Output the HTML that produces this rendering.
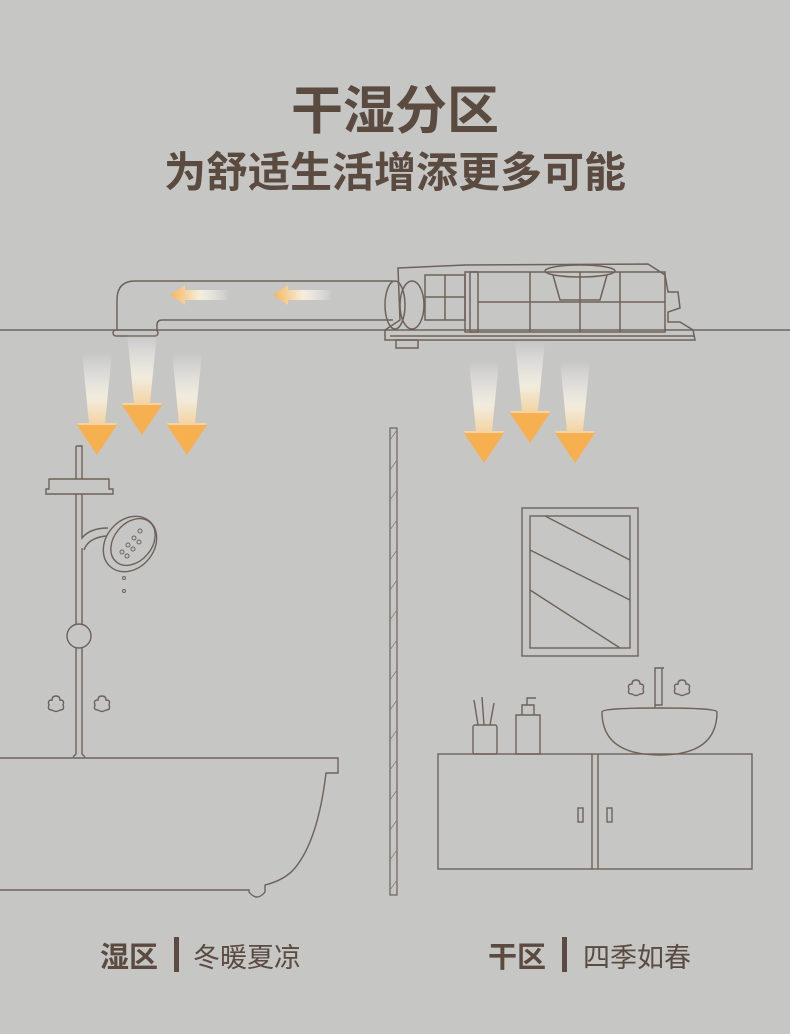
<!DOCTYPE html>
<html><head><meta charset="utf-8"><style>
html,body{margin:0;padding:0;background:#c6c6c5;}
svg{display:block}
</style></head><body>
<svg width="790" height="1034" viewBox="0 0 790 1034" xmlns="http://www.w3.org/2000/svg" font-family="'Liberation Sans','Noto Sans CJK SC',sans-serif">
<defs>
<linearGradient id="gv" x1="0" y1="0" x2="0" y2="1">
<stop offset="0" stop-color="#fff" stop-opacity="0"/>
<stop offset="0.45" stop-color="#f6f0e0" stop-opacity="0.9"/>
<stop offset="1" stop-color="#f6b557"/>
</linearGradient>
<linearGradient id="gh" x1="1" y1="0" x2="0" y2="0">
<stop offset="0" stop-color="#fff" stop-opacity="0"/>
<stop offset="0.5" stop-color="#f5eedd"/>
<stop offset="1" stop-color="#f6b557"/>
</linearGradient>
<g id="va"><path d="M-15,0 L15,0 L8,70 L20,70 L0,100 L-20,70 L-8,70 Z" fill="url(#gv)"/><path d="M-20,72 L20,72 L0,102 Z" fill="#f6b04f"/></g>
</defs>
<rect width="790" height="1034" fill="#c6c6c5"/>
<text x="395" y="129" text-anchor="middle" font-size="52" font-weight="bold" fill="#5a4a3f">干湿分区</text>
<text x="395" y="187" text-anchor="middle" font-size="42" font-weight="bold" fill="#5a4a3f">为舒适生活增添更多可能</text>

<g stroke="#6e625a" fill="none" stroke-width="1.5">
<line x1="0" y1="330" x2="790" y2="330" stroke="#5c504a" stroke-width="1.2"/>
<path d="M393,281 L135,281 Q117,281 117,300 L117,330"/>
<path d="M393,320 L162,320 Q157,320 157,325 L157,330"/>
<rect x="113" y="330" width="45" height="6" rx="3"/>
<path d="M398,268 L465,265 L648,264 L665,275 L668,292 L678,292 L680,308 L668,312 L668,322 L680,322 L693,330 L695,340 L385,340 L385,330 L400,320 Z"/>
<ellipse cx="395" cy="305" rx="10" ry="24"/><ellipse cx="412" cy="305" rx="12" ry="24"/>
<rect x="425" y="275" width="40" height="45"/><line x1="445" y1="275" x2="445" y2="320"/><line x1="425" y1="297" x2="465" y2="297"/>
<rect x="465" y="272" width="200" height="60"/><rect x="470" y="272" width="8" height="60"/>
<line x1="530" y1="272" x2="530" y2="332"/><line x1="580" y1="272" x2="580" y2="332"/><line x1="620" y1="272" x2="620" y2="332"/>
<line x1="478" y1="302" x2="665" y2="302"/>
<ellipse cx="580" cy="271" rx="35" ry="6"/><path d="M553,275 L560,300 L600,300 L607,275"/>
<line x1="390" y1="336" x2="695" y2="336"/><rect x="396" y="340" width="22" height="8"/>
<rect x="390" y="428" width="7" height="467" stroke-width="1.2"/>
</g>
<g stroke="#8a7f78" stroke-width="0.8">
<path d="M390,440 L397,430 M390,470 L397,460 M390,500 L397,490 M390,530 L397,520 M390,560 L397,550 M390,590 L397,580 M390,620 L397,610 M390,650 L397,640 M390,680 L397,670 M390,710 L397,700 M390,740 L397,730 M390,770 L397,760 M390,800 L397,790 M390,830 L397,820 M390,860 L397,850 M390,890 L397,880"/>
</g>
<path d="M230,290 L185,290 L185,285 L170,295 L185,305 L185,300 L230,300 Z" fill="url(#gh)"/>
<path d="M333,290 L288,290 L288,285 L273,295 L288,305 L288,300 L333,300 Z" fill="url(#gh)"/>
<use href="#va" x="97" y="353"/><use href="#va" x="142" y="333"/><use href="#va" x="187" y="353"/>
<use href="#va" x="484" y="361"/><use href="#va" x="530" y="341"/><use href="#va" x="575" y="361"/>

<g stroke="#6e625a" fill="none" stroke-width="1.4">
<path d="M76,446 L82,446 L82,479 M76,446 L76,479"/>
<path d="M46,494 L46,489 L49,489 L49,479 L109,479 L109,489 L113,489 L113,494 Z"/>
<path d="M76,494 L76,624 M82,494 L82,538 Q90,528 108,528 M82,548 L82,624 M84,550 Q88,538 106,536"/>
<circle cx="79" cy="636" r="12"/>
<path d="M76,648 L76,754 L73,757 M82,648 L82,754 L85,757"/>
<ellipse cx="130" cy="544" rx="24" ry="30" transform="rotate(40 130 544)"/>
<ellipse cx="133" cy="542" rx="19" ry="26" transform="rotate(40 133 542)"/>
<path d="M56,696 q4,0 4,4 q5,0 3,5 q2,5 -3,5 q-4,3 -8,0 q-5,0 -3,-5 q-2,-5 3,-5 q0,-4 4,-4z"/>
<path d="M102,696 q4,0 4,4 q5,0 3,5 q2,5 -3,5 q-4,3 -8,0 q-5,0 -3,-5 q-2,-5 3,-5 q0,-4 4,-4z"/>
<path d="M0,758 L338,758 L338,773 L326,773 Q318,840 295,868 Q285,880 265,885 L265,892 Q257,902 249,892 L249,890 L0,890"/>
<rect x="522" y="508" width="116" height="148"/><rect x="530" y="516" width="100" height="132"/>
<line x1="530" y1="550" x2="630" y2="600"/><line x1="545" y1="516" x2="630" y2="560"/><line x1="530" y1="590" x2="620" y2="648"/>
<rect x="438" y="754" width="314" height="115"/><line x1="592" y1="754" x2="592" y2="869"/><line x1="598" y1="754" x2="598" y2="869"/>
<rect x="578" y="808" width="5" height="14"/><rect x="607" y="808" width="5" height="14"/>
<path d="M602,712 Q602,708 660,708 Q717,708 717,712 Q717,755 660,755 Q602,755 602,712 Z"/>
<path d="M655,708 L655,668 L664,668 M662,668 L662,705 L655,705"/>
<path d="M636,680 q4,0 4,4 q5,0 3,5 q2,5 -3,5 q-4,3 -8,0 q-5,0 -3,-5 q-2,-5 3,-5 q0,-4 4,-4z"/>
<path d="M682,680 q4,0 4,4 q5,0 3,5 q2,5 -3,5 q-4,3 -8,0 q-5,0 -3,-5 q-2,-5 3,-5 q0,-4 4,-4z"/>
<rect x="473" y="725" width="24" height="29" rx="2"/>
<path d="M478,725 L474,700 M484,725 L482,697 M490,725 L494,703"/>
<path d="M516,715 L540,715 L540,754 L516,754 Z M522,715 L522,705 L534,705 L534,715 M527,705 L527,698 L536,698"/>
</g>
<g stroke="#6e625a" stroke-width="1" fill="none">
<circle cx="124" cy="578" r="1.5"/><circle cx="124" cy="591" r="1.5"/>
<circle cx="122" cy="552" r="2"/><circle cx="128" cy="545" r="2"/><circle cx="134" cy="538" r="2"/><circle cx="140" cy="531" r="2"/>
<circle cx="127" cy="556" r="2"/><circle cx="133" cy="549" r="2"/><circle cx="139" cy="542" r="2"/>
</g>

<text x="100" y="967" font-size="29" font-weight="bold" fill="#5a4a3f">湿区</text>
<rect x="174" y="937" width="5" height="35" fill="#5a4a3f"/>
<text x="193" y="967" font-size="27" fill="#5a4a3f">冬暖夏凉</text>
<text x="488" y="967" font-size="29" font-weight="bold" fill="#5a4a3f">干区</text>
<rect x="562" y="937" width="5" height="35" fill="#5a4a3f"/>
<text x="583" y="967" font-size="27" fill="#5a4a3f">四季如春</text>
</svg>
</body></html>
